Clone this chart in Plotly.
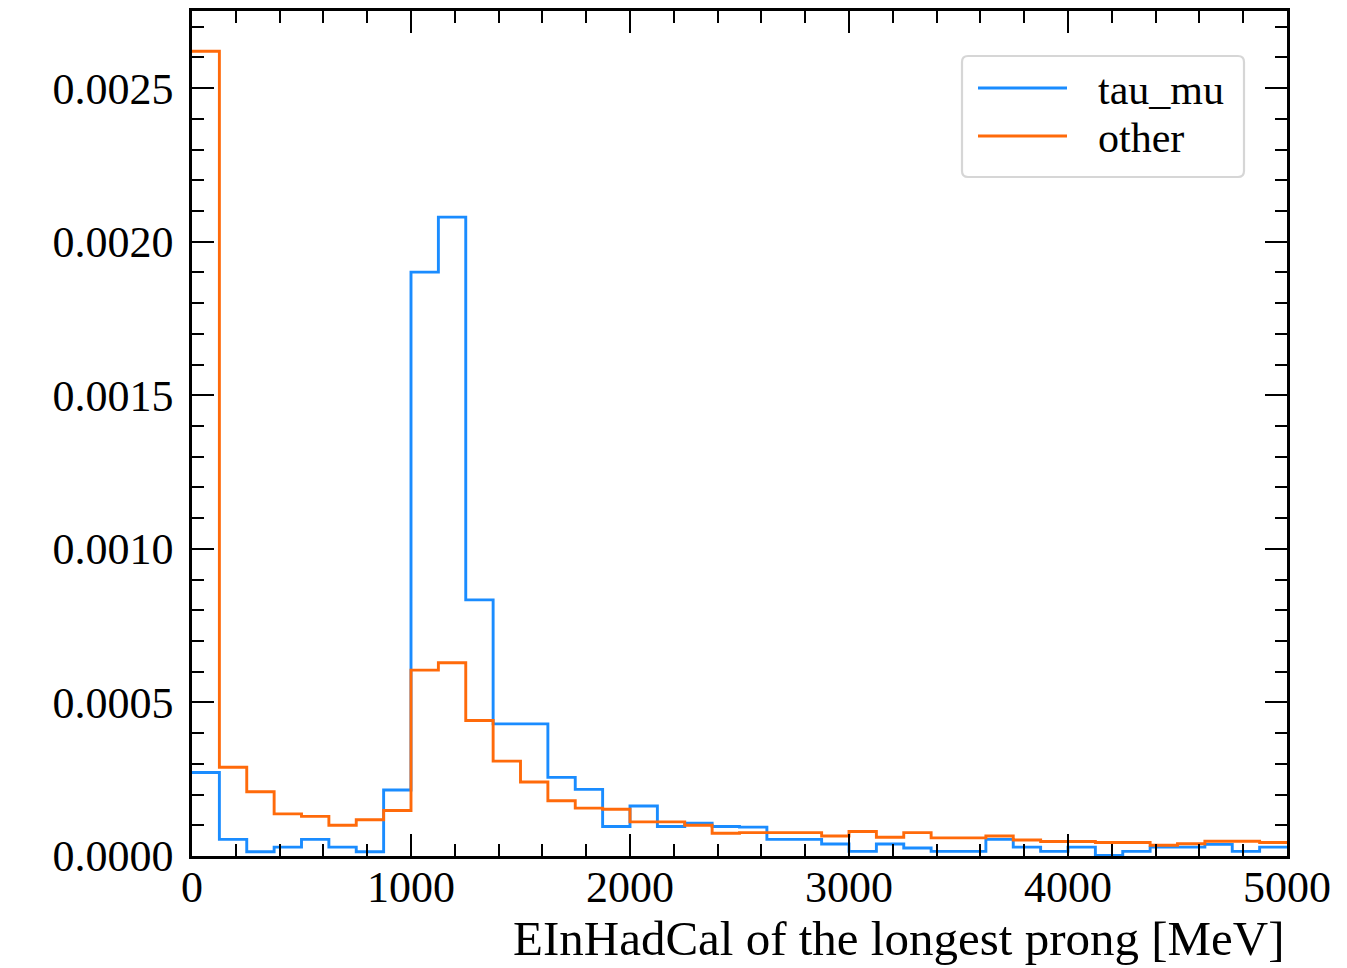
import numpy as np
import plotly.graph_objects as go

# Histogram binning: 40 bins of 125 MeV between 0 and 5000 MeV
bin_edges = np.linspace(0, 5000, 41)

# Normalised bin contents (density) for each sample
tau_mu = [
    0.000272, 0.000054, 0.000014, 0.000029, 0.000054, 0.000029, 0.000014, 0.000215,
    0.001901, 0.002080, 0.000834, 0.000430, 0.000430, 0.000256, 0.000217, 0.000096,
    0.000163, 0.000096, 0.000107, 0.000096, 0.000094, 0.000054, 0.000054, 0.000039,
    0.000015, 0.000039, 0.000026, 0.000015, 0.000015, 0.000054, 0.000029, 0.000015,
    0.000029, 0.000002, 0.000015, 0.000029, 0.000029, 0.000038, 0.000015, 0.000029,
]
other = [
    0.002620, 0.000289, 0.000209, 0.000137, 0.000129, 0.000100, 0.000118, 0.000148,
    0.000605, 0.000629, 0.000441, 0.000309, 0.000241, 0.000180, 0.000156, 0.000152,
    0.000111, 0.000111, 0.000100, 0.000074, 0.000076, 0.000076, 0.000076, 0.000065,
    0.000080, 0.000061, 0.000076, 0.000059, 0.000059, 0.000065, 0.000052, 0.000047,
    0.000047, 0.000044, 0.000044, 0.000035, 0.000040, 0.000048, 0.000048, 0.000044,
]

series_names = ["tau_mu", "other"]
series_colors = ["#1a8cff", "#ff6a0a"]
x_title = "EInHadCal of the longest prong [MeV]"

FONT = "Liberation Serif, Times New Roman, serif"

fig = go.Figure()
for name, vals, col in zip(series_names, [tau_mu, other], series_colors):
    fig.add_trace(go.Scatter(
        x=bin_edges,
        y=list(vals) + [vals[-1]],
        mode="lines",
        line=dict(shape="hv", color=col, width=2.9),
        name=name,
        showlegend=False,
        hoverinfo="skip",
    ))

ymax = 1.05 * max(max(tau_mu), max(other))

axis_common = dict(
    showgrid=False,
    zeroline=False,
    showline=True,
    linecolor="black",
    linewidth=2.5,
    mirror="allticks",
    ticks="inside",
    ticklen=22,
    tickwidth=2.2,
    tickcolor="black",
    tickfont=dict(family=FONT, size=44, color="black"),
)

fig.update_xaxes(
    range=[0, 5000],
    dtick=1000,
    tick0=0,
    minor=dict(dtick=200, ticks="inside", ticklen=12, tickwidth=2.2, tickcolor="black"),
    ticklabelstandoff=-10,
    **axis_common,
)
fig.update_yaxes(
    range=[0, ymax],
    dtick=0.0005,
    tick0=0,
    tickformat=".4f",
    minor=dict(dtick=0.0001, ticks="inside", ticklen=12, tickwidth=2.2, tickcolor="black"),
    ticklabelstandoff=7,
    **axis_common,
)

# Axis title, right-aligned under the x axis
fig.add_annotation(
    text=x_title, xref="paper", yref="paper", x=1.0, y=0,
    xanchor="right", yanchor="top", yshift=-53, showarrow=False,
    font=dict(family=FONT, size=49, color="black"),
)

# Legend drawn as a rounded frame with line samples and labels
W, H = 1095.0, 845.0
L, B = 192.0, 856.0


def px(x):
    return (x - L) / W


def py(y):
    return (B - y) / H


x0, x1, y0, y1, r = 962, 1244, 56, 177, 6
rx, ry = r / W, r / H
X0, X1, Y0, Y1 = px(x0), px(x1), py(y1), py(y0)
path = (
    f"M{X0 + rx},{Y0} L{X1 - rx},{Y0} Q{X1},{Y0} {X1},{Y0 + ry} "
    f"L{X1},{Y1 - ry} Q{X1},{Y1} {X1 - rx},{Y1} "
    f"L{X0 + rx},{Y1} Q{X0},{Y1} {X0},{Y1 - ry} "
    f"L{X0},{Y0 + ry} Q{X0},{Y0} {X0 + rx},{Y0} Z"
)
fig.add_shape(type="path", path=path, xref="paper", yref="paper",
              line=dict(color="#d6d6d6", width=2.2), fillcolor="white", layer="above")

for i, (name, col) in enumerate(zip(series_names, series_colors)):
    yy = py(88 + 48 * i)
    fig.add_shape(type="line", xref="paper", yref="paper",
                  x0=px(978), x1=px(1067), y0=yy, y1=yy,
                  line=dict(color=col, width=2.9), layer="above")
    fig.add_annotation(text=name, xref="paper", yref="paper", x=px(1096), y=yy,
                       xanchor="left", yanchor="middle", showarrow=False, yshift=-2,
                       font=dict(family=FONT, size=42, color="black"))

fig.update_layout(
    width=1347, height=968,
    margin=dict(l=192, r=60, t=11, b=112, autoexpand=False),
    paper_bgcolor="white",
    plot_bgcolor="white",
    font=dict(family=FONT, size=42, color="black"),
)

fig.write_html("out.html")
